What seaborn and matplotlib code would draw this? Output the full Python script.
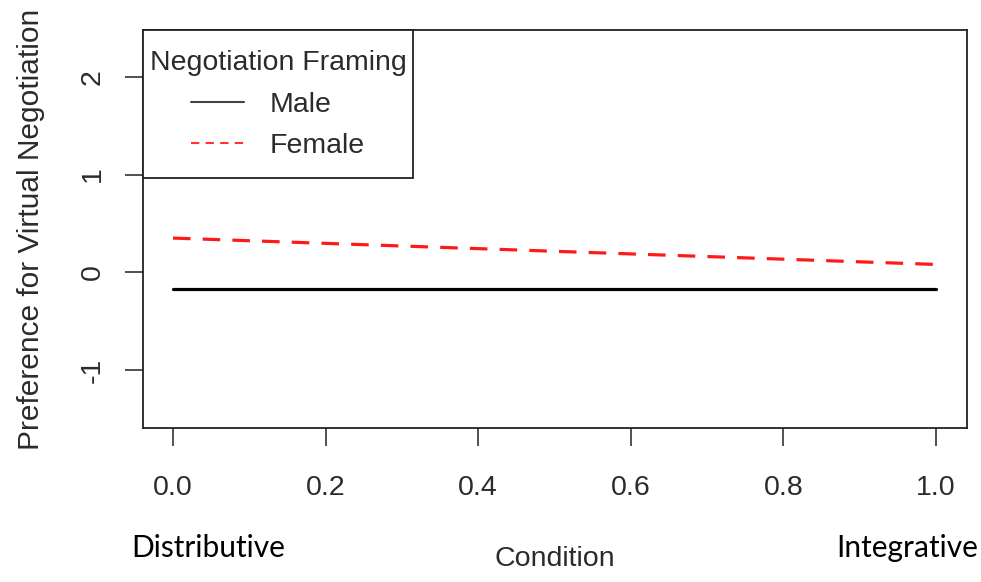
import pandas as pd
import matplotlib.pyplot as plt
import seaborn as sns
from matplotlib.lines import Line2D
from matplotlib.patches import Rectangle

# values
condition = [0.0, 1.0]
male_pref = [-0.17, -0.17]
female_pref = [0.35, 0.08]
groups = ['Male', 'Female']
x_ticks = [0.0, 0.2, 0.4, 0.6, 0.8, 1.0]
y_ticks = [-1, 0, 1, 2]

df = pd.DataFrame({
    'Condition': condition * 2,
    'pref': male_pref + female_pref,
    'group': ['Male'] * 2 + ['Female'] * 2,
})

sns.set_style('ticks')
plt.rcParams['font.family'] = ['Liberation Sans', 'DejaVu Sans']

fig = plt.figure(figsize=(9.81, 5.82), dpi=100)
ax = fig.add_axes([143 / 981, 1 - 428 / 582, (967 - 143) / 981, (428 - 30) / 582])

sns.lineplot(data=df[df['group'] == 'Male'], x='Condition', y='pref',
             color='black', linewidth=2.3, ax=ax, legend=False)
sns.lineplot(data=df[df['group'] == 'Female'], x='Condition', y='pref',
             color='#ff1a1a', linewidth=2.3, ax=ax, legend=False,
             linestyle=(0, (5.5, 3.8)))

ax.set_xlim(-0.0393, 1.0406)
ax.set_ylim(-1.594, 2.48)
ax.set_xticks(x_ticks)
ax.set_xticklabels([f'{v:.1f}' for v in x_ticks])
ax.set_yticks(y_ticks)
ax.set_yticklabels([str(v) for v in y_ticks], rotation=90, va='center')

fs = 20.5
txt_col = '#2b2b2b'
ax.tick_params(axis='x', length=13, width=1.2, pad=21, labelsize=fs,
               colors='#333333', labelcolor=txt_col)
ax.tick_params(axis='y', length=13, width=1.2, pad=14, labelsize=fs,
               colors='#333333', labelcolor=txt_col)
for s in ax.spines.values():
    s.set_color('#222222')
    s.set_linewidth(1.3)

ax.set_xlabel('Condition', fontsize=fs, color=txt_col)
ax.set_ylabel('Preference for Virtual Negotiation', fontsize=21.5, color=txt_col)
ax.xaxis.set_label_coords(0.5, -(546 - 428) / 398)
ax.yaxis.set_label_coords((45 - 143) / 824, 0.5)

# legend box (R-style, drawn by hand so padding can differ per side)
box = Rectangle((0, (428 - 178) / 398), (413 - 143) / 824, (178 - 30) / 398,
                transform=ax.transAxes, facecolor='white', edgecolor='#222222',
                linewidth=1.3, zorder=4.5, clip_on=False)
ax.add_patch(box)

handles = [
    Line2D([], [], color='#444444', linewidth=1.5),
    Line2D([], [], color='#ff3333', linewidth=1.5, linestyle=(0, (4, 3))),
]
leg = ax.legend(handles, groups, title='Negotiation Framing', loc='upper center',
                bbox_to_anchor=((278 - 143) / 824, 1 - (50 - 30) / 398),
                borderaxespad=0, frameon=False, fontsize=fs,
                title_fontsize=fs, handlelength=1.85, handletextpad=0.9,
                labelspacing=0.55, borderpad=0, alignment='center')
leg.set_zorder(5)
leg.get_title().set_color(txt_col)
for t in leg.get_texts():
    t.set_color(txt_col)

fig.text(208 / 981, 1 - 548 / 582, 'Distributive', ha='center', va='center',
         fontsize=21.5, family=['Lato', 'DejaVu Sans'], color='black')
fig.text(907 / 981, 1 - 548 / 582, 'Integrative', ha='center', va='center',
         fontsize=21.5, family=['Lato', 'DejaVu Sans'], color='black')

fig.savefig('out.png', dpi=100)
